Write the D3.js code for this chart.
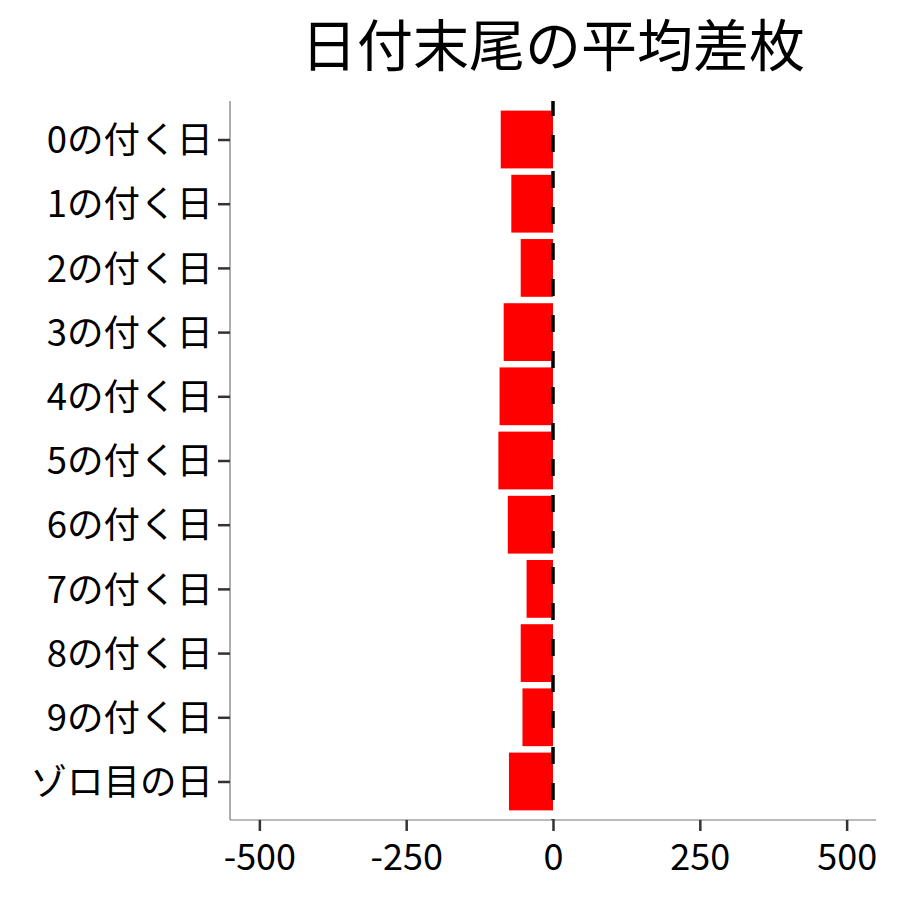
<!DOCTYPE html>
<html>
<head>
<meta charset="utf-8">
<script src="https://cdn.jsdelivr.net/npm/d3@7"></script>
<style>
  body { margin: 0; background: #fff; }
  text { font-family: "Noto Sans CJK JP", "Noto Sans", sans-serif; }
</style>
</head>
<body>
<svg id="vis"></svg>
<script>
const categories = ["0の付く日", "1の付く日", "2の付く日", "3の付く日", "4の付く日",
    "5の付く日", "6の付く日", "7の付く日", "8の付く日", "9の付く日", "ゾロ目の日"];
const values = [-89, -71, -55, -84, -91, -93, -77, -45, -55, -52, -75];
const xTicks = [-500, -250, 0, 250, 500];
const title = "日付末尾の平均差枚";

const width = 900;
const height = 900;
const margin = {top: 101, right: 24, bottom: 80, left: 230};

const data = categories.map((c, i) => ({name: c, value: values[i]}));

const svg = d3.select("#vis")
    .attr("width", width)
    .attr("height", height);

const x = d3.scaleLinear()
    .domain([-550, 550])
    .range([margin.left, width - margin.right]);

// ggplot-style discrete expansion: 0.6 of a step at each end
const plotH = height - margin.top - margin.bottom;
const step = plotH / (categories.length - 1 + 1.2);
const y = d3.scalePoint()
    .domain(categories)
    .range([margin.top + 0.6 * step, height - margin.bottom - 0.6 * step]);
const barH = step * 0.9;

// bars
svg.append("g")
  .selectAll("rect")
  .data(data)
  .enter()
  .append("rect")
    .attr("x", d => x(Math.min(0, d.value)))
    .attr("width", d => Math.abs(x(d.value) - x(0)))
    .attr("y", d => y(d.name) - barH / 2)
    .attr("height", barH)
    .attr("fill", "#ff0000");

// zero reference line
svg.append("line")
    .attr("x1", x(0)).attr("x2", x(0))
    .attr("y1", margin.top).attr("y2", height - margin.bottom)
    .attr("stroke", "#000")
    .attr("stroke-width", 3.5)
    .attr("stroke-dasharray", "17,19")
    .attr("stroke-dashoffset", 2);

// x axis (plain hyphen for negatives, like the original)
const xAxis = svg.append("g")
    .attr("transform", `translate(0, ${height - margin.bottom})`)
    .call(d3.axisBottom(x).tickValues(xTicks).tickSize(11).tickPadding(14).tickFormat(d => String(d)));
xAxis.select(".domain")
    .attr("d", `M${margin.left},0H${width - margin.right}`)
    .attr("stroke", "#777").attr("stroke-width", 1.2);
xAxis.selectAll(".tick line").attr("stroke", "#333").attr("stroke-width", 2.5);
xAxis.selectAll(".tick text")
    .attr("font-size", 36)
    .attr("fill", "#000")
    .attr("dy", "0.7em")
    .style("font-family", "'Noto Sans CJK JP', sans-serif");

// y axis
const yAxis = svg.append("g")
    .attr("transform", `translate(${margin.left}, 0)`)
    .call(d3.axisLeft(y).tickSize(12).tickPadding(5));
yAxis.select(".domain")
    .attr("d", `M0,${margin.top}V${height - margin.bottom}`)
    .attr("stroke", "#777").attr("stroke-width", 1.2);
yAxis.selectAll(".tick line").attr("stroke", "#333").attr("stroke-width", 2.5);
yAxis.selectAll(".tick text")
    .attr("font-size", 36.5)
    .attr("fill", "#000")
    .attr("dy", "0.36em")
    .style("font-family", "'Noto Sans CJK JP', sans-serif");

// title
svg.append("text")
    .attr("x", (margin.left + width - margin.right) / 2)
    .attr("y", 66)
    .attr("text-anchor", "middle")
    .attr("font-size", 56)
    .attr("fill", "#000")
    .text(title);
</script>
</body>
</html>
